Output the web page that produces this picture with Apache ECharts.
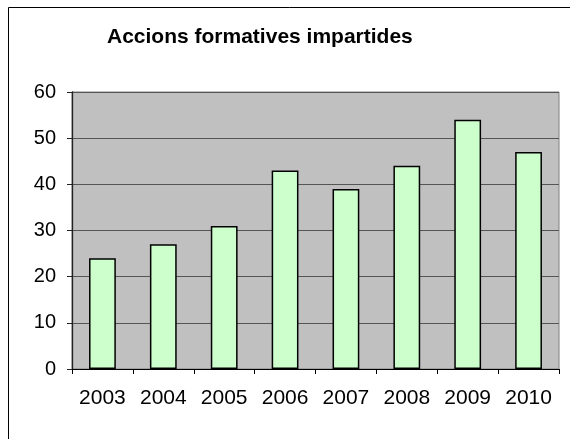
<!DOCTYPE html>
<html>
<head>
<meta charset="utf-8">
<script src="https://cdn.jsdelivr.net/npm/echarts@6/dist/echarts.min.js"></script>
<style>
html,body{margin:0;padding:0;background:#fff;}
#chart{width:570px;height:439px;}
</style>
</head>
<body>
<div id="chart"></div>
<script>
var titleText = "Accions formatives impartides";
var years = ["2003","2004","2005","2006","2007","2008","2009","2010"];
var accions = [24, 27, 31, 43, 39, 44, 54, 47];
var yMin = 0, yMax = 60, yStep = 10;

var chart = echarts.init(document.getElementById('chart'), null, {renderer:'canvas'});
var font = '"Liberation Sans", Arial, sans-serif';
chart.setOption({
  animation: false,
  backgroundColor: '#fff',
  title: {
    text: titleText,
    left: 102, top: 22,
    textStyle: {fontFamily: font, fontWeight: 'bold', fontSize: 21, color: '#000'}
  },
  graphic: [{
    type: 'rect', silent: true, z: -1,
    shape: {x: 8.5, y: 7.5, width: 700, height: 600},
    style: {fill: 'none', stroke: '#000', lineWidth: 1}
  }],
  grid: {
    left: 72, top: 92, right: 11, bottom: 70,
    show: true, backgroundColor: '#C0C0C0', borderColor: '#808080', borderWidth: 1
  },
  xAxis: {
    type: 'category', data: years, boundaryGap: true,
    axisLine: {lineStyle: {color: '#000', width: 1}},
    axisTick: {show: true, length: 5, inside: false, alignWithLabel: false, lineStyle: {color: '#000'}},
    axisLabel: {margin: 19, fontFamily: font, fontSize: 21, color: '#000', interval: 0}
  },
  yAxis: {
    type: 'value', min: yMin, max: yMax, interval: yStep,
    axisLine: {show: true, lineStyle: {color: '#222', width: 1.3}},
    axisTick: {show: true, length: 5, lineStyle: {color: '#222'}},
    axisLabel: {margin: 16, fontFamily: font, fontSize: 20, color: '#000'},
    splitLine: {show: true, lineStyle: {color: '#555', width: 1.2}}
  },
  series: [{
    type: 'bar', data: accions, barWidth: '44%',
    itemStyle: {color: '#CCFFCC', borderColor: '#000', borderWidth: 1.5}
  }]
});
</script>
</body>
</html>
